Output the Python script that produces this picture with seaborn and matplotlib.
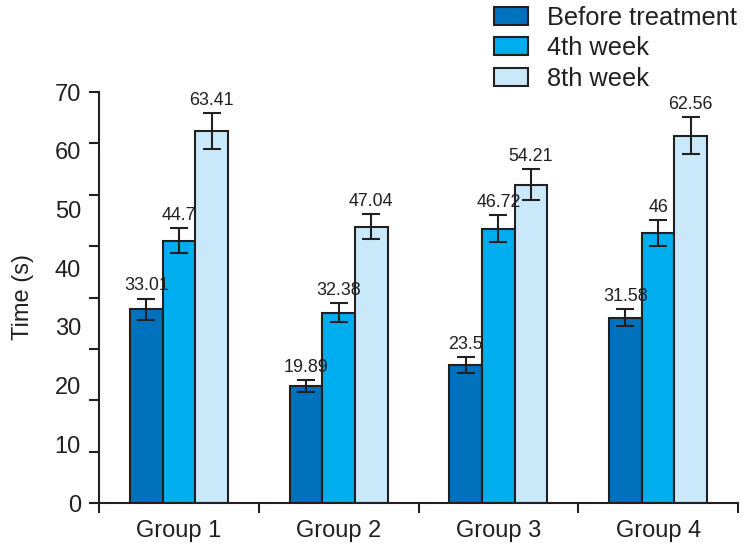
import numpy as np
import pandas as pd
import matplotlib.pyplot as plt
import seaborn as sns

groups = ["Group 1", "Group 2", "Group 3", "Group 4"]
periods = ["Before treatment", "4th week", "8th week"]
before = [33.01, 19.89, 23.5, 31.58]
week4 = [44.7, 32.38, 46.72, 46]
week8 = [63.41, 47.04, 54.21, 62.56]
before_err = [1.8, 1.0, 1.3, 1.45]
week4_err = [2.15, 1.6, 2.3, 2.2]
week8_err = [3.05, 2.1, 2.6, 3.15]
colors = ["#0071bc", "#00aeef", "#c9e9fb"]
ink = "#231f20"

df = pd.DataFrame({
    "Group": groups * 3,
    "Period": [p for p in periods for _ in groups],
    "Time": before + week4 + week8,
})
errs = [before_err, week4_err, week8_err]
vals = [before, week4, week8]

sns.set_style("ticks")
plt.rcParams["font.family"] = ["Liberation Sans", "DejaVu Sans"]
plt.rcParams["text.color"] = ink
plt.rcParams["axes.labelcolor"] = ink
plt.rcParams["xtick.color"] = ink
plt.rcParams["ytick.color"] = ink

fig = plt.figure(figsize=(7.46, 5.51), dpi=100)
ax = fig.add_axes([99 / 746, 1 - 503 / 551, 639 / 746, 411 / 551])

sns.barplot(data=df, x="Group", y="Time", hue="Period", order=groups,
            hue_order=periods, palette=colors, errorbar=None, width=0.613,
            edgecolor=ink, linewidth=1.5, saturation=1, ax=ax)

bar_conts = list(ax.containers)
for i, cont in enumerate(bar_conts):
    for j, bar in enumerate(cont):
        xc = bar.get_x() + bar.get_width() / 2
        ax.errorbar(xc, vals[i][j], yerr=errs[i][j], fmt="none", ecolor=ink,
                    elinewidth=1.5, capsize=6.8, capthick=1.5)
        ax.annotate(f"{vals[i][j]:g}", (xc, vals[i][j] + errs[i][j]),
                    xytext=(0, 3), textcoords="offset points",
                    ha="center", va="bottom", fontsize=12.9, color=ink)

ax.set_xlim(-0.5, 3.5)
ax.set_ylim(0, 70)
ax.xaxis.remove_overlapping_locs = False
ax.yaxis.remove_overlapping_locs = False
ax.set_xticks([-0.5, 0.5, 1.5, 2.5, 3.5])
ax.set_xticklabels([])
ax.set_xticks([0, 1, 2, 3], groups, minor=True)
ax.tick_params(axis="x", which="minor", length=0, labelsize=17, pad=12)
ax.set_yticks(np.linspace(0, 70, 9))
ax.set_yticklabels([])
ax.set_yticks(np.arange(0, 71, 10), [str(v) for v in range(0, 71, 10)], minor=True)
ax.tick_params(axis="y", which="minor", length=0, labelsize=17, pad=13)
ax.tick_params(which="major", length=7, width=1.5)
for s in ["left", "bottom"]:
    ax.spines[s].set_linewidth(1.5)
    ax.spines[s].set_color(ink)
sns.despine(ax=ax)
ax.set_xlabel("")
ax.set_ylabel("Time (s)", fontsize=17, labelpad=15)

sns.move_legend(ax, "upper left", bbox_to_anchor=(490 / 746, 1 - 2 / 551),
                bbox_transform=fig.transFigure, frameon=False, title=None,
                fontsize=18.3, handlelength=1.34, handleheight=0.71,
                handletextpad=0.75, labelspacing=0.25, borderpad=0.15,
                borderaxespad=0)

fig.savefig("out.png", dpi=100)
